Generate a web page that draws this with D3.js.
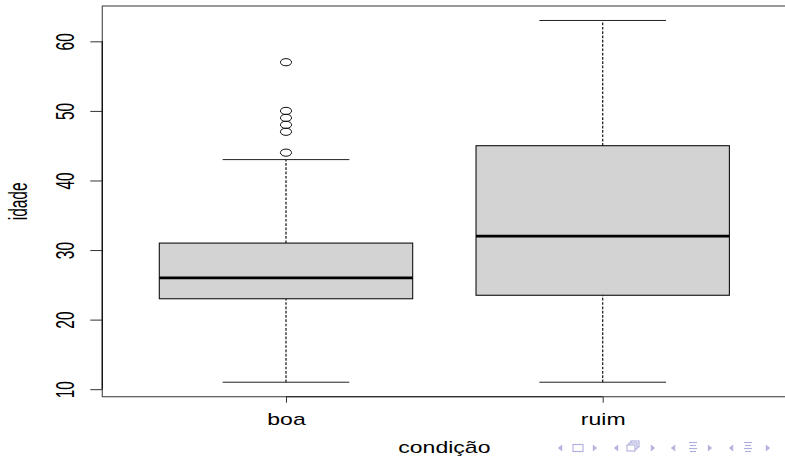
<!DOCTYPE html>
<html>
<head>
<meta charset="utf-8">
<script src="https://cdn.jsdelivr.net/npm/d3@7"></script>
<style>
  html, body { margin: 0; padding: 0; background: #fff; }
  svg { display: block; }
  text { font-family: "Liberation Sans", Arial, Helvetica, sans-serif; fill: #000; }
</style>
</head>
<body>
<svg id="chart" width="785" height="457"></svg>
<script>
// Boxplot of idade by condição
const categories = ["boa", "ruim"];
const lowerWhisker = [11, 11];
const q1 = [23, 23.5];
const medians = [26, 32];
const q3 = [31, 45];
const upperWhisker = [43, 63];
const outliers = [[44, 47, 48, 49, 50, 57], []];
const yTicks = [10, 20, 30, 40, 50, 60];

const svg = d3.select("#chart");

// plot region
const plotLeft = 102.3, plotRight = 786.4, plotTop = 6, plotBottom = 396.7;

// R-style ranges: xlim 0.5..n+0.5 and ylim min..max, both padded by 4%
const xPad = 0.04 * categories.length;
const x = d3.scaleLinear().domain([0.5 - xPad, categories.length + 0.5 + xPad]).range([plotLeft, plotRight]);
const yMin = d3.min(lowerWhisker), yMax = d3.max(upperWhisker);
const yPad = 0.04 * (yMax - yMin);
const y = d3.scaleLinear().domain([yMin - yPad, yMax + yPad]).range([plotBottom, plotTop]);

const boxHalf = 0.4, capHalf = 0.2;

const data = categories.map((c, i) => ({
  cat: c, pos: i + 1,
  lo: lowerWhisker[i], q1: q1[i], med: medians[i], q3: q3[i], hi: upperWhisker[i],
  out: outliers[i]
}));

// plot frame
svg.append("rect")
  .attr("x", plotLeft).attr("y", plotTop)
  .attr("width", plotRight - plotLeft).attr("height", plotBottom - plotTop)
  .attr("fill", "none").attr("stroke", "#555").attr("stroke-width", 1.2);

const g = svg.append("g");

// whiskers (dashed)
g.selectAll(".whisk-lo").data(data).join("line")
  .attr("x1", d => x(d.pos)).attr("x2", d => x(d.pos))
  .attr("y1", d => y(d.lo)).attr("y2", d => y(d.q1))
  .attr("stroke", "#111").attr("stroke-width", 1.2).attr("stroke-dasharray", "2.7,1.6");
g.selectAll(".whisk-hi").data(data).join("line")
  .attr("x1", d => x(d.pos)).attr("x2", d => x(d.pos))
  .attr("y1", d => y(d.q3)).attr("y2", d => y(d.hi))
  .attr("stroke", "#111").attr("stroke-width", 1.2).attr("stroke-dasharray", "2.7,1.6");

// whisker caps
["lo", "hi"].forEach(k => {
  g.selectAll(".cap-" + k).data(data).join("line")
    .attr("x1", d => x(d.pos - capHalf)).attr("x2", d => x(d.pos + capHalf))
    .attr("y1", d => y(d[k])).attr("y2", d => y(d[k]))
    .attr("stroke", "#222").attr("stroke-width", 1);
});

// boxes
g.selectAll(".box").data(data).join("rect")
  .attr("x", d => x(d.pos - boxHalf))
  .attr("width", d => x(d.pos + boxHalf) - x(d.pos - boxHalf))
  .attr("y", d => y(d.q3))
  .attr("height", d => y(d.q1) - y(d.q3))
  .attr("fill", "#d3d3d3").attr("stroke", "#111").attr("stroke-width", 1.1);

// medians
g.selectAll(".med").data(data).join("line")
  .attr("x1", d => x(d.pos - boxHalf)).attr("x2", d => x(d.pos + boxHalf))
  .attr("y1", d => y(d.med)).attr("y2", d => y(d.med))
  .attr("stroke", "#000").attr("stroke-width", 2.8);

// outliers
data.forEach(d => {
  g.selectAll(null).data(d.out).join("ellipse")
    .attr("cx", x(d.pos)).attr("cy", v => y(v))
    .attr("rx", 5.6).attr("ry", 3.6)
    .attr("fill", "none").attr("stroke", "#111").attr("stroke-width", 1);
});

// y axis
const yAxis = svg.append("g")
  .attr("transform", `translate(${plotLeft},0)`)
  .call(d3.axisLeft(y).tickValues(yTicks).tickSize(12).tickPadding(0));
yAxis.select(".domain").remove();
yAxis.selectAll(".tick line").attr("stroke", "#333").attr("stroke-width", 1);
yAxis.selectAll(".tick text")
  .attr("x", null).attr("dy", null)
  .attr("text-anchor", "middle")
  .attr("font-size", 25)
  .attr("fill", "#000")
  .attr("transform", "translate(-28,0) rotate(-90) scale(0.62,1)");
svg.append("line")
  .attr("x1", plotLeft).attr("x2", plotLeft)
  .attr("y1", y(yTicks[0])).attr("y2", y(yTicks[yTicks.length - 1]))
  .attr("stroke", "#111").attr("stroke-width", 1.3);

// x axis
const xAxis = svg.append("g")
  .attr("transform", `translate(0,${plotBottom})`)
  .call(d3.axisBottom(x).tickValues(data.map(d => d.pos))
    .tickFormat((v, i) => categories[i]).tickSize(6).tickPadding(0));
xAxis.select(".domain").remove();
xAxis.selectAll(".tick line").attr("stroke", "#333").attr("stroke-width", 1);
xAxis.selectAll(".tick text")
  .attr("y", null).attr("dy", null)
  .attr("text-anchor", "middle")
  .attr("font-size", 16)
  .attr("fill", "#000")
  .attr("transform", "translate(0,28) scale(1.44,1)");
svg.append("line")
  .attr("x1", x(1)).attr("x2", x(categories.length))
  .attr("y1", plotBottom).attr("y2", plotBottom)
  .attr("stroke", "#333").attr("stroke-width", 1.3);

// axis titles
svg.append("text")
  .attr("text-anchor", "middle").attr("font-size", 16)
  .attr("transform", `translate(${(plotLeft + plotRight) / 2},453) scale(1.44,1)`)
  .text("condição");
svg.append("text")
  .attr("text-anchor", "middle").attr("font-size", 25)
  .attr("transform", `translate(26.5,${(plotTop + plotBottom) / 2}) rotate(-90) scale(0.62,1)`)
  .text("idade");

// navigation symbols in the lower right corner
const nav = svg.append("g").attr("fill", "none").attr("stroke", "#aeaedc").attr("stroke-width", 1.1);
const navCol = "#b4b4df";
function triL(cx) {
  nav.append("path").attr("d", `M${cx + 2.2},444.5 L${cx - 2.2},448 L${cx + 2.2},451.5 Z`)
    .attr("fill", navCol).attr("stroke", "none");
}
function triR(cx) {
  nav.append("path").attr("d", `M${cx - 2.2},444.5 L${cx + 2.2},448 L${cx - 2.2},451.5 Z`)
    .attr("fill", navCol).attr("stroke", "none");
}
function frame(cx) {
  nav.append("rect").attr("x", cx - 5).attr("y", 444.5).attr("width", 10).attr("height", 7);
}
function stack(cx) {
  [[4, -4], [2, -2], [0, 0]].forEach(([dx, dy]) => {
    nav.append("rect").attr("x", cx - 6 + dx).attr("y", 445 + dy).attr("width", 8).attr("height", 6)
      .attr("fill", "#fff");
  });
}
function lines(cx) {
  [[-4, 4, 442.5], [-3, 3, 445.5], [-4, 4, 448.5], [-3, 3, 451.5]].forEach(([a, b, yy]) => {
    nav.append("line").attr("x1", cx + a).attr("x2", cx + b).attr("y1", yy).attr("y2", yy);
  });
}
triL(560); frame(578); triR(595);
triL(616); stack(633); triR(653);
triL(673); lines(693); triR(710);
triL(731); lines(748); triR(768);
</script>
</body>
</html>
